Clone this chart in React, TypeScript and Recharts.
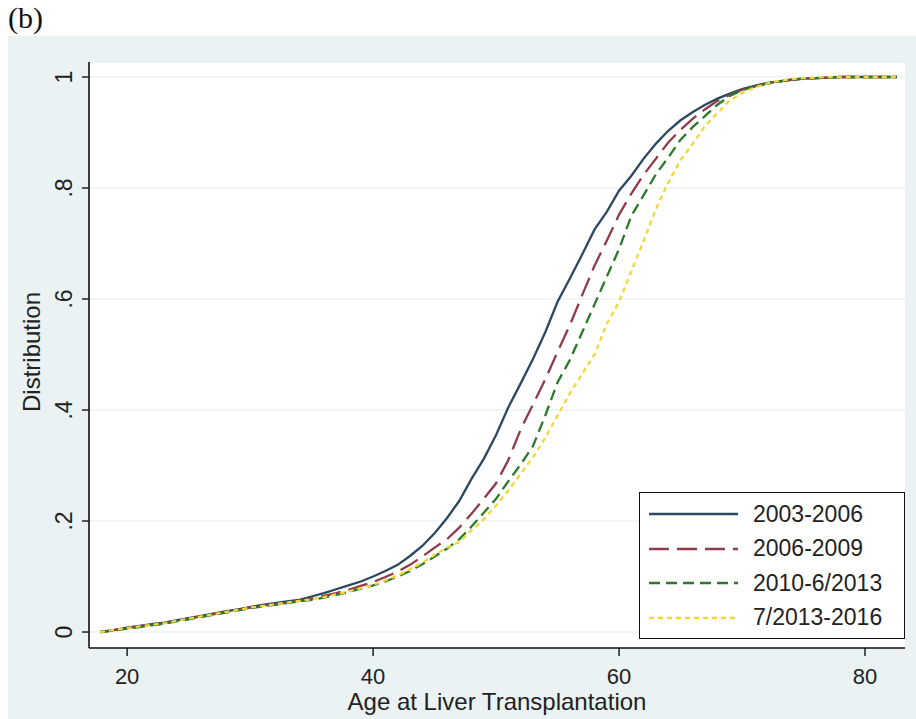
import { LineChart, Line, XAxis, YAxis, CartesianGrid, Legend } from "recharts";

// age at transplant (years)
const ages = [
  17.8, 19, 20, 21, 22, 23, 24, 25, 26, 27,
  28, 29, 30, 31, 32, 33, 34, 35, 36, 37,
  38, 39, 40, 41, 42, 43, 44, 45, 46, 47,
  48, 49, 50, 51, 52, 53, 54, 55, 56, 57,
  58, 59, 60, 61, 62, 63, 64, 65, 66, 67,
  68, 69, 70, 71, 72, 73, 74, 75, 76, 77,
  78, 79, 80, 81, 82, 82.6,
];

const era2003 = [
  0, 0.004, 0.008, 0.011, 0.014, 0.017, 0.021, 0.025, 0.029, 0.033,
  0.037, 0.041, 0.045, 0.049, 0.052, 0.055, 0.058, 0.064, 0.07, 0.077,
  0.084, 0.091, 0.1, 0.11, 0.121, 0.137, 0.155, 0.178, 0.205, 0.236,
  0.276, 0.312, 0.355, 0.405, 0.448, 0.492, 0.54, 0.595, 0.637, 0.68,
  0.725, 0.757, 0.795, 0.822, 0.853, 0.88, 0.903, 0.922, 0.937, 0.95,
  0.961, 0.97, 0.978, 0.984, 0.989, 0.992, 0.995, 0.997, 0.998, 0.999,
  1, 1, 1, 1, 1, 1,
];

const era2006 = [
  0, 0.004, 0.007, 0.01, 0.013, 0.016, 0.02, 0.024, 0.028, 0.032,
  0.036, 0.04, 0.044, 0.047, 0.05, 0.053, 0.056, 0.06, 0.065, 0.07,
  0.076, 0.083, 0.09, 0.099, 0.109, 0.121, 0.136, 0.152, 0.167, 0.188,
  0.213, 0.24, 0.268, 0.31, 0.365, 0.41, 0.455, 0.505, 0.553, 0.607,
  0.66, 0.705, 0.752, 0.79, 0.824, 0.853, 0.882, 0.905, 0.925, 0.942,
  0.957, 0.968, 0.977, 0.983, 0.988, 0.992, 0.995, 0.997, 0.998, 0.999,
  1, 1, 1, 1, 1, 1,
];

const era2010 = [
  0, 0.003, 0.006, 0.009, 0.012, 0.015, 0.019, 0.023, 0.027, 0.031,
  0.035, 0.039, 0.043, 0.046, 0.049, 0.052, 0.055, 0.058, 0.062, 0.067,
  0.072, 0.078, 0.084, 0.091, 0.1, 0.11, 0.122, 0.136, 0.15, 0.167,
  0.19, 0.215, 0.24, 0.272, 0.302, 0.335, 0.39, 0.45, 0.49, 0.54,
  0.59, 0.64, 0.69, 0.75, 0.787, 0.825, 0.855, 0.887, 0.91, 0.93,
  0.95, 0.966, 0.976, 0.983, 0.988, 0.992, 0.995, 0.997, 0.998, 0.999,
  1, 1, 1, 1, 1, 1,
];

const era2013 = [
  0, 0.004, 0.007, 0.01, 0.013, 0.016, 0.02, 0.024, 0.028, 0.032,
  0.036, 0.04, 0.044, 0.047, 0.05, 0.053, 0.056, 0.059, 0.063, 0.068,
  0.073, 0.079, 0.085, 0.093, 0.102, 0.113, 0.125, 0.139, 0.152, 0.162,
  0.183, 0.203, 0.228, 0.255, 0.285, 0.315, 0.35, 0.39, 0.43, 0.465,
  0.5, 0.555, 0.595, 0.65, 0.705, 0.762, 0.81, 0.85, 0.88, 0.912,
  0.935, 0.958, 0.971, 0.981, 0.988, 0.993, 0.996, 0.998, 0.999, 1,
  1, 1, 1, 1, 1, 1,
];

const xTicks = [20, 40, 60, 80];
const yTicks = [0, 0.2, 0.4, 0.6, 0.8, 1];

const series = [
  { key: "era2003", name: "2003-2006", color: "#2b4862", dash: undefined },
  { key: "era2006", name: "2006-2009", color: "#8f3b4a", dash: "20 8" },
  { key: "era2010", name: "2010-6/2013", color: "#2a7a2a", dash: "11 6" },
  { key: "era2013", name: "7/2013-2016", color: "#f2d63a", dash: "5 4" },
];

const data = ages.map((age, i) => ({
  age,
  era2003: era2003[i],
  era2006: era2006[i],
  era2010: era2010[i],
  era2013: era2013[i],
}));

const font = "'Liberation Sans', Arial, sans-serif";

function fmtY(v: number) {
  if (v === 0) return "0";
  if (v === 1) return "1";
  return "." + Math.round(v * 10);
}

function YTick({ x, y, payload }: any) {
  return (
    <text
      x={x}
      y={y}
      transform={`rotate(-90 ${x} ${y})`}
      textAnchor="middle"
      fill="#222"
      fontSize={23}
      fontFamily={font}
    >
      {fmtY(payload.value)}
    </text>
  );
}

function XTick({ x, y, payload }: any) {
  return (
    <text x={x} y={y} dy={16} textAnchor="middle" fill="#222" fontSize={22} fontFamily={font}>
      {payload.value}
    </text>
  );
}

function LegendBox() {
  return (
    <div
      style={{
        boxSizing: "border-box",
        width: 266,
        height: 147,
        border: "1.5px solid #111",
        background: "#fff",
        paddingTop: 4,
        paddingLeft: 9,
        fontFamily: font,
        fontSize: 23,
        color: "#222",
      }}
    >
      {series.map((s) => (
        <div key={s.key} style={{ height: 34.5, display: "flex", alignItems: "center" }}>
          <svg width={89} height={6} style={{ marginRight: 15 }}>
            <line x1={0} y1={3} x2={89} y2={3} stroke={s.color} strokeWidth={2.5} strokeDasharray={s.dash} />
          </svg>
          <span>{s.name}</span>
        </div>
      ))}
    </div>
  );
}

export default function App() {
  return (
    <div style={{ position: "absolute", left: 0, top: 0, width: 916, height: 719, background: "#fff" }}>
      <div
        style={{
          position: "absolute",
          left: 8,
          top: 0,
          fontFamily: "'Liberation Serif', 'DejaVu Serif', serif",
          fontSize: 30,
          lineHeight: "36px",
          color: "#111",
        }}
      >
        (b)
      </div>
      <div style={{ position: "absolute", left: 8, top: 36, width: 908, height: 683, background: "#eaf2f3" }} />

      <div style={{ position: "absolute", left: 0, top: 0 }}>
        <LineChart width={916} height={719} data={data} margin={{ top: 62, right: 11, bottom: 0, left: 8 }}>
          <CartesianGrid vertical={false} stroke="#e3ebed" strokeWidth={1} fill="#fff" fillOpacity={1} />
          <XAxis
            dataKey="age"
            type="number"
            domain={[16.9, 83.25]}
            ticks={xTicks}
            height={71}
            tickSize={8}
            tickMargin={12}
            tick={<XTick />}
            axisLine={{ stroke: "#111", strokeWidth: 1.6 }}
            tickLine={{ stroke: "#111", strokeWidth: 1.4 }}
            allowDataOverflow
          />
          <YAxis
            type="number"
            domain={[-0.0288, 1.027]}
            ticks={yTicks}
            width={81}
            tickSize={7}
            tickMargin={10}
            tick={<YTick />}
            axisLine={{ stroke: "#111", strokeWidth: 1.6 }}
            tickLine={{ stroke: "#111", strokeWidth: 1.4 }}
            allowDataOverflow
          />
          <Legend
            layout="vertical"
            align="center"
            verticalAlign="middle"
            content={<LegendBox />}
            wrapperStyle={{ left: 639, top: 492, width: 266, height: 147 }}
          />
          {series.map((s) => (
            <Line
              key={s.key}
              type="linear"
              dataKey={s.key}
              name={s.name}
              stroke={s.color}
              strokeWidth={2.3}
              strokeDasharray={s.dash}
              dot={false}
              isAnimationActive={false}
            />
          ))}
        </LineChart>
      </div>

      <div
        style={{
          position: "absolute",
          left: 89,
          width: 816,
          top: 693,
          textAlign: "center",
          fontFamily: font,
          fontSize: 24,
          color: "#222",
          lineHeight: "18px",
        }}
      >
        Age at Liver Transplantation
      </div>
      <div
        style={{
          position: "absolute",
          left: 32,
          top: 352,
          transform: "translate(-50%, -50%) rotate(-90deg)",
          fontFamily: font,
          fontSize: 24,
          color: "#222",
          lineHeight: "28px",
          whiteSpace: "nowrap",
        }}
      >
        Distribution
      </div>
    </div>
  );
}
